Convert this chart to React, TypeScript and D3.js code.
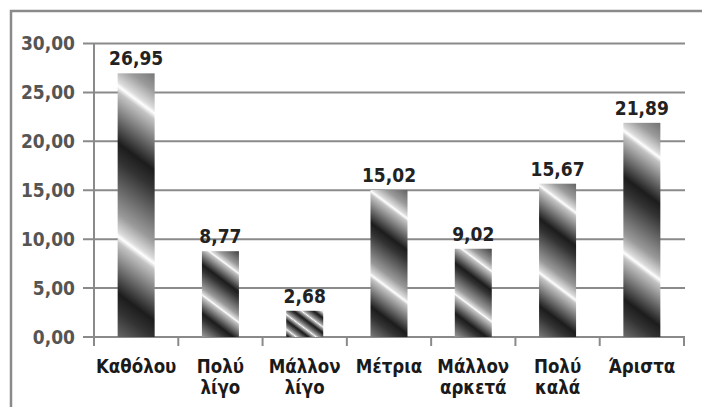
import React from "react";
import * as d3 from "d3";

const categories: string[][] = [
  ["Καθόλου"],
  ["Πολύ", "λίγο"],
  ["Μάλλον", "λίγο"],
  ["Μέτρια"],
  ["Μάλλον", "αρκετά"],
  ["Πολύ", "καλά"],
  ["Άριστα"],
];
const values: number[] = [26.95, 8.77, 2.68, 15.02, 9.02, 15.67, 21.89];
const yTicks: number[] = [0, 5, 10, 15, 20, 25, 30];

const W = 702;
const H = 407;
const FONT = "'DejaVu Sans Condensed', 'DejaVu Sans', sans-serif";
const fmt = (v: number) => v.toFixed(2).replace(".", ",");

export default function App() {
  const plotLeft = 94;
  const plotRight = 684;
  const y = d3.scaleLinear().domain([0, 30]).range([337, 43.5]);
  const x = d3
    .scaleBand<number>()
    .domain(d3.range(categories.length))
    .range([plotLeft, plotRight])
    .paddingInner(0)
    .paddingOuter(0);
  const bw = x.bandwidth();
  const barW = 37;
  const stripeSlope = 0.75;

  const bars = values.map((v, i) => {
    const cx = (x(i) as number) + bw / 2;
    const top = y(v);
    const h = y(0) - top;
    const period = Math.max(0.57 * h, 14);
    const k = period / (1 + stripeSlope * stripeSlope);
    const x1 = cx;
    const y1 = top + 0.1 * h;
    return {
      i,
      v,
      cx,
      top,
      h,
      grad: { x1, y1, x2: x1 - stripeSlope * k, y2: y1 + k },
    };
  });

  return (
    <svg
      width={W}
      height={H}
      style={{ position: "absolute", left: 0, top: 0, background: "#fff" }}
      fontFamily={FONT}
    >
      <defs>
        {bars.map((b) => (
          <linearGradient
            key={b.i}
            id={`g${b.i}`}
            gradientUnits="userSpaceOnUse"
            spreadMethod="repeat"
            x1={b.grad.x1}
            y1={b.grad.y1}
            x2={b.grad.x2}
            y2={b.grad.y2}
          >
            <stop offset="0" stopColor="#ffffff" />
            <stop offset="0.04" stopColor="#c4c4c4" />
            <stop offset="0.38" stopColor="#1c1c1c" />
            <stop offset="0.5" stopColor="#333333" />
            <stop offset="0.85" stopColor="#9a9a9a" />
            <stop offset="0.97" stopColor="#dcdcdc" />
            <stop offset="1" stopColor="#ffffff" />
          </linearGradient>
        ))}
      </defs>
      <rect x={11} y={11} width={730} height={440} fill="none" stroke="#8a8a8a" strokeWidth={2.5} />

      {yTicks.map((t) => (
        <g key={t}>
          <line x1={83} x2={plotRight + 1} y1={y(t)} y2={y(t)} stroke="#8a8a8a" strokeWidth={2} />
          <text
            x={75}
            y={y(t)}
            dy="0.36em"
            textAnchor="end"
            fontSize={19}
            fontWeight="bold"
            fill="#555"
          >
            {fmt(t)}
          </text>
        </g>
      ))}
      <line x1={plotLeft} x2={plotLeft} y1={y(30)} y2={346} stroke="#8a8a8a" strokeWidth={2} />
      {d3.range(categories.length + 1).map((i) => {
        const xx = i < categories.length ? (x(i) as number) : plotRight;
        return <line key={i} x1={xx} x2={xx} y1={y(0)} y2={346} stroke="#8a8a8a" strokeWidth={2} />;
      })}

      {bars.map((b) => (
        <g key={b.i}>
          <rect x={b.cx - barW / 2} y={b.top} width={barW} height={b.h} fill={`url(#g${b.i})`} />
          <text
            x={b.cx}
            y={b.top - 8}
            textAnchor="middle"
            fontSize={19}
            fontWeight="bold"
            fill="#222"
          >
            {fmt(b.v)}
          </text>
        </g>
      ))}

      {categories.map((lines, i) => (
        <text
          key={i}
          x={(x(i) as number) + bw / 2}
          y={373}
          textAnchor="middle"
          fontSize={18.5}
          fontWeight="bold"
          fill="#1a1a1a"
        >
          {lines.map((l, j) => (
            <tspan key={j} x={(x(i) as number) + bw / 2} dy={j === 0 ? 0 : 21}>
              {l}
            </tspan>
          ))}
        </text>
      ))}
    </svg>
  );
}
